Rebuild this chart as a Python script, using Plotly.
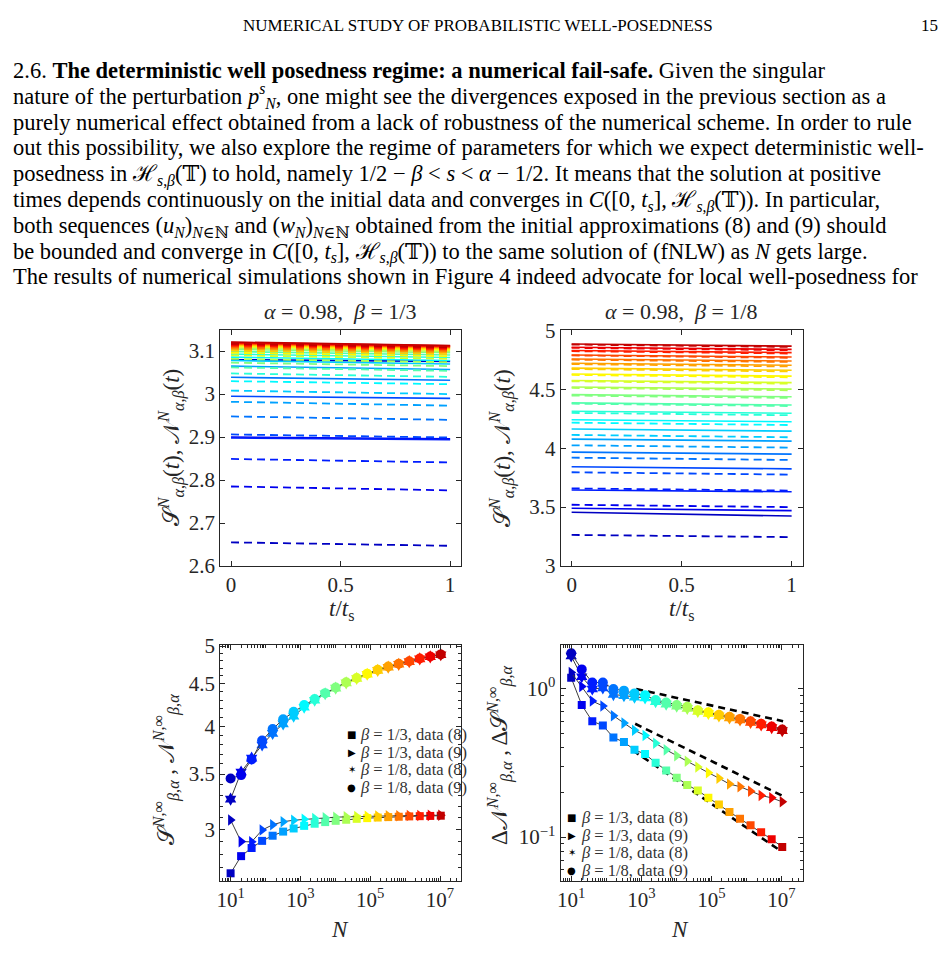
import math
import plotly.graph_objects as go

# ---------------- data ----------------
N_VALUES = [10, 20, 40, 80, 160, 320, 640, 1280, 2560, 5120, 10240, 20480, 40960,
            81920, 163840, 327680, 655360, 1310720, 2621440, 5242880, 10485760]
T_VALUES = [0.0, 1.0]

# beta = 1/3  (top-left: dashed = data (8), solid = data (9)); value at t=0 and t=t_s
b13_d8_start = [2.655, 2.785, 2.849, 2.906, 2.948, 2.982, 3.008, 3.030, 3.048, 3.062, 3.073,
                3.082, 3.090, 3.096, 3.101, 3.105, 3.108, 3.111, 3.113, 3.115, 3.117]
b13_d8_end = [2.647, 2.776, 2.841, 2.899, 2.940, 2.973, 3.000, 3.023, 3.040, 3.054, 3.065,
              3.074, 3.082, 3.088, 3.093, 3.097, 3.100, 3.103, 3.105, 3.107, 3.109]
b13_d9_start = [3.080, 2.900, 2.898, 2.995, 3.039, 3.065, 3.078, 3.086, 3.093, 3.099, 3.104,
                3.107, 3.110, 3.112, 3.114, 3.116, 3.117, 3.118, 3.119, 3.120, 3.121]
b13_d9_end = [3.076, 2.896, 2.894, 2.990, 3.032, 3.057, 3.070, 3.078, 3.085, 3.091, 3.096,
              3.099, 3.102, 3.104, 3.106, 3.108, 3.109, 3.110, 3.111, 3.112, 3.113]

# beta = 1/8  (top-right)
b18_d8_start = [3.264, 3.520, 3.659, 3.796, 3.920, 4.025, 4.113, 4.217, 4.300, 4.378, 4.447,
                4.512, 4.568, 4.622, 4.672, 4.714, 4.752, 4.788, 4.824, 4.852, 4.880]
b18_d8_end = [3.245, 3.500, 3.640, 3.776, 3.900, 4.005, 4.093, 4.197, 4.280, 4.358, 4.427,
              4.492, 4.548, 4.602, 4.652, 4.694, 4.732, 4.768, 4.804, 4.832, 4.860]
b18_d9_start = [3.457, 3.490, 3.645, 3.843, 3.967, 4.077, 4.163, 4.242, 4.314, 4.385, 4.455,
                4.520, 4.575, 4.630, 4.680, 4.722, 4.758, 4.792, 4.830, 4.857, 4.885]
b18_d9_end = [3.424, 3.470, 3.630, 3.825, 3.950, 4.060, 4.145, 4.225, 4.297, 4.367, 4.437,
              4.502, 4.557, 4.612, 4.662, 4.704, 4.740, 4.774, 4.812, 4.839, 4.867]

# bottom-right: differences
d_b13_d8 = [1.19, 0.780, 0.605, 0.567, 0.470, 0.438, 0.388, 0.364, 0.317, 0.282, 0.252,
            0.225, 0.206, 0.184, 0.166, 0.148, 0.133, 0.120, 0.108, 0.0966, 0.0859]
d_b13_d9 = [1.29, 1.04, 0.828, 0.768, 0.660, 0.588, 0.526, 0.485, 0.430, 0.388, 0.354,
            0.325, 0.297, 0.272, 0.250, 0.228, 0.219, 0.204, 0.191, 0.184, 0.173]
d_b18_d8 = [1.67, 1.21, 1.00, 1.015, 0.917, 0.900, 0.880, 0.870, 0.820, 0.790, 0.765,
            0.740, 0.705, 0.683, 0.658, 0.638, 0.617, 0.595, 0.572, 0.548, 0.523]
d_b18_d9 = [1.74, 1.355, 1.105, 1.105, 1.00, 0.974, 0.933, 0.908, 0.841, 0.809, 0.780,
            0.757, 0.719, 0.695, 0.670, 0.650, 0.628, 0.606, 0.582, 0.558, 0.533]

# reference slopes (dashed black) in bottom-right
ref1_x = [713, 1.11e7]
ref1_y = [1.0, 0.606]
ref2_x = [668, 1.11e7]
ref2_y = [0.582, 0.189]
ref3_x = [575, 8.0e6]
ref3_y = [0.385, 0.083]

# tick labels
tl_yticks = [2.6, 2.7, 2.8, 2.9, 3.0, 3.1]
tl_ytext = ["2.6", "2.7", "2.8", "2.9", "3", "3.1"]
tr_yticks = [3, 3.5, 4, 4.5, 5]
tr_ytext = ["3", "3.5", "4", "4.5", "5"]
t_xticks = [0, 0.5, 1]
t_xtext = ["0", "0.5", "1"]
bl_yticks = [3, 3.5, 4, 4.5, 5]
bl_ytext = ["3", "3.5", "4", "4.5", "5"]
br_yticks = [0.1, 1.0]
br_ytext = ["10<sup>−1</sup>", "10<sup>0</sup>"]
b_xticks = [10, 1e3, 1e5, 1e7]
b_xtext = ["10<sup>1</sup>", "10<sup>3</sup>", "10<sup>5</sup>", "10<sup>7</sup>"]

LEGEND_LABELS = ["<i>β</i> = 1/3, data (8)", "<i>β</i> = 1/3, data (9)",
                 "<i>β</i> = 1/8, data (8)", "<i>β</i> = 1/8, data (9)"]

PARAGRAPH = [
    "2.6. <b>The deterministic well posedness regime: a numerical fail-safe.</b> Given the singular",
    "nature of the perturbation <i>p</i><sup><i>s</i></sup><sub><i>N</i></sub>, one might see the divergences exposed in the previous section as a",
    "purely numerical effect obtained from a lack of robustness of the numerical scheme. In order to rule",
    "out this possibility, we also explore the regime of parameters for which we expect deterministic well-",
    "posedness in ℋ<sub><i>s</i>,<i>β</i></sub>(𝕋) to hold, namely 1/2 − <i>β</i> &lt; <i>s</i> &lt; <i>α</i> − 1/2. It means that the solution at positive",
    "times depends continuously on the initial data and converges in <i>C</i>([0, <i>t</i><sub><i>s</i></sub>], ℋ<sub><i>s</i>,<i>β</i></sub>(𝕋)). In particular,",
    "both sequences (<i>u</i><sub><i>N</i></sub>)<sub><i>N</i>∈ℕ</sub> and (<i>w</i><sub><i>N</i></sub>)<sub><i>N</i>∈ℕ</sub> obtained from the initial approximations (8) and (9) should",
    "be bounded and converge in <i>C</i>([0, <i>t</i><sub><i>s</i></sub>], ℋ<sub><i>s</i>,<i>β</i></sub>(𝕋)) to the same solution of (fNLW) as <i>N</i> gets large.",
    "The results of numerical simulations shown in Figure 4 indeed advocate for local well-posedness for",
]

# ---------------- styling helpers ----------------
W, H = 948, 974
SERIF = "Liberation Serif, DejaVu Serif, serif"
INK = "#262626"


def px(x):
    return x / W


def py(y):
    return 1 - y / H


def jet(t):
    r = min(max(min(4 * t - 1.5, -4 * t + 4.5), 0), 1)
    g = min(max(min(4 * t - 0.5, -4 * t + 3.5), 0), 1)
    b = min(max(min(4 * t + 0.5, -4 * t + 2.5), 0), 1)
    return "rgb(%d,%d,%d)" % (round(r * 255), round(g * 255), round(b * 255))


n = len(N_VALUES)
COLORS = [jet((i + 1.5) / (n + 2)) for i in range(n)]

fig = go.Figure()

# ---------------- top panels ----------------
for (xa, ya, d8s, d8e, d9s, d9e) in [
        ("x", "y", b13_d8_start, b13_d8_end, b13_d9_start, b13_d9_end),
        ("x2", "y2", b18_d8_start, b18_d8_end, b18_d9_start, b18_d9_end)]:
    for i in range(n):
        fig.add_trace(go.Scatter(x=T_VALUES, y=[d9s[i], d9e[i]], mode="lines",
                                 line=dict(color=COLORS[i], width=1.6),
                                 xaxis=xa, yaxis=ya, showlegend=False, hoverinfo="skip"))
        fig.add_trace(go.Scatter(x=T_VALUES, y=[d8s[i], d8e[i]], mode="lines",
                                 line=dict(color=COLORS[i], width=1.8, dash="8px,5px"),
                                 xaxis=xa, yaxis=ya, showlegend=False, hoverinfo="skip"))

# ---------------- bottom panels ----------------
series_bl = [(b13_d8_start, "square", 8), (b13_d9_start, "triangle-right", 10),
             (b18_d8_start, "hexagram", 10), (b18_d9_start, "circle", 10)]
series_br = [(d_b13_d8, "square", 8), (d_b13_d9, "triangle-right", 10),
             (d_b18_d8, "hexagram", 10), (d_b18_d9, "circle", 10)]

for ref_x, ref_y in [(ref1_x, ref1_y), (ref2_x, ref2_y), (ref3_x, ref3_y)]:
    fig.add_trace(go.Scatter(x=ref_x, y=ref_y, mode="lines",
                             line=dict(color="black", width=2.6, dash="7px,5px"),
                             xaxis="x4", yaxis="y4", showlegend=False, hoverinfo="skip"))

for (xa, ya, series) in [("x3", "y3", series_bl), ("x4", "y4", series_br)]:
    for vals, sym, sz in series:
        fig.add_trace(go.Scatter(x=N_VALUES, y=vals, mode="lines+markers",
                                 line=dict(color="#3c3c3c", width=1),
                                 marker=dict(symbol=sym, size=sz, color=COLORS,
                                             line=dict(width=0)),
                                 xaxis=xa, yaxis=ya, showlegend=False, hoverinfo="skip"))

# ---------------- axes ----------------
base = dict(showline=True, linecolor=INK, linewidth=1, mirror="ticks", ticks="inside",
            ticklen=5, tickcolor=INK, tickwidth=1, showgrid=False, zeroline=False,
            tickfont=dict(family=SERIF, size=21, color=INK))

dom_left = [px(217), px(459)]
dom_right = [px(559), px(802)]
dom_top = [py(568), py(326.5)]
dom_bot = [py(891), py(649)]

log_minor_x = []
for k in range(0, 8):
    for m in range(2, 11):
        log_minor_x.append(m * 10 ** k)
bl_minor = [round(2.6 + 0.1 * j, 1) for j in range(25)]
br_minor = [m / 100 for m in range(5, 10)] + [m / 10 for m in range(2, 10)]

fig.update_layout(
    width=W, height=H, margin=dict(l=0, r=0, t=0, b=0),
    paper_bgcolor="white", plot_bgcolor="white", showlegend=False,
    xaxis=dict(base, domain=dom_left, anchor="y", range=[-0.05, 1.05],
               tickmode="array", tickvals=t_xticks, ticktext=t_xtext),
    yaxis=dict(base, domain=dom_top, anchor="x", range=[2.6, 3.148],
               tickmode="array", tickvals=tl_yticks, ticktext=tl_ytext),
    xaxis2=dict(base, domain=dom_right, anchor="y2", range=[-0.05, 1.05],
                tickmode="array", tickvals=t_xticks, ticktext=t_xtext),
    yaxis2=dict(base, domain=dom_top, anchor="x2", range=[3, 5],
                tickmode="array", tickvals=tr_yticks, ticktext=tr_ytext),
    xaxis3=dict(base, domain=dom_left, anchor="y3", type="log",
                range=[math.log10(5), math.log10(4e7)],
                tickmode="array", tickvals=b_xticks, ticktext=b_xtext,
                minor=dict(tickmode="array", tickvals=log_minor_x, ticklen=3,
                           ticks="inside", tickcolor=INK)),
    yaxis3=dict(base, domain=dom_bot, anchor="x3", type="log",
                range=[0.4147, 0.7002],
                tickmode="array", tickvals=bl_yticks, ticktext=bl_ytext,
                minor=dict(tickmode="array", tickvals=bl_minor, ticklen=3,
                           ticks="inside", tickcolor=INK)),
    xaxis4=dict(base, domain=dom_right, anchor="y4", type="log",
                range=[math.log10(5), math.log10(4e7)],
                tickmode="array", tickvals=b_xticks, ticktext=b_xtext,
                minor=dict(tickmode="array", tickvals=log_minor_x, ticklen=3,
                           ticks="inside", tickcolor=INK)),
    yaxis4=dict(base, domain=dom_bot, anchor="x4", type="log",
                range=[-1.2966, 0.2966],
                tickmode="array", tickvals=br_yticks, ticktext=br_ytext,
                minor=dict(tickmode="array", tickvals=br_minor, ticklen=3,
                           ticks="inside", tickcolor=INK)),
)

# ---------------- text ----------------
ann = []


def add_text(text, x, y, size, xanchor="center", yanchor="middle", angle=0, color="black"):
    ann.append(dict(text=text, x=px(x), y=py(y), xref="paper", yref="paper",
                    xanchor=xanchor, yanchor=yanchor, showarrow=False, textangle=angle,
                    font=dict(family=SERIF, size=size, color=color)))


add_text("NUMERICAL STUDY OF PROBABILISTIC WELL-POSEDNESS", 476, 14, 17)
add_text("15", 940, 14, 17, xanchor="right")

# paragraph as one text block: line pitch = 1.3 x base size, glyphs enlarged by span
para = "<br>".join('<span style="font-size:22.5px">%s</span>' % line for line in PARAGRAPH)
ann.append(dict(text=para, x=px(7), y=py(45), xref="paper", yref="paper",
                xanchor="left", yanchor="top", align="left", showarrow=False,
                font=dict(family=SERIF, size=19.85, color="black")))

add_text("<i>α</i> = 0.98,\u00a0\u00a0<i>β</i> = 1/3", 337, 307, 22, color=INK)
add_text("<i>α</i> = 0.98,\u00a0\u00a0<i>β</i> = 1/8", 680, 307, 22, color=INK)
add_text("<i>t</i>/<i>t</i><sub>s</sub>", 339, 613, 23, color=INK)
add_text("<i>t</i>/<i>t</i><sub>s</sub>", 680, 613, 23, color=INK)
add_text("<i>N</i>", 337, 941, 23, color=INK)
add_text("<i>N</i>", 679, 941, 23, color=INK)

ylab_top = ("𝒮<sup><i>N</i></sup><sub><i>α</i>,<i>β</i></sub>(<i>t</i>), "
            "𝒩<sup><i>N</i></sup><sub><i>α</i>,<i>β</i></sub>(<i>t</i>)")
add_text(ylab_top, 168, 447, 23, angle=-90, color=INK)
add_text(ylab_top, 500, 447, 23, angle=-90, color=INK)
add_text("𝒮<sup><i>N</i>,∞</sup><sub><i>β</i>,<i>α</i></sub> , "
         "𝒩<sup><i>N</i>,∞</sup><sub><i>β</i>,<i>α</i></sub>", 163, 777, 23, angle=-90, color=INK)
add_text("Δ𝒩<sup><i>N</i>,∞</sup><sub><i>β</i>,<i>α</i></sub> , "
         "Δ𝒮<sup><i>N</i>,∞</sup><sub><i>β</i>,<i>α</i></sub>", 498, 762, 23, angle=-90, color=INK)

# legends (black key glyphs + labels)
KEY_GLYPHS = ["■", "▶", "✶", "●"]
for (kx, tx, y0) in [(349, 356, 741), (570, 577, 826)]:
    for j in range(4):
        y = y0 + 18 * j
        ann.append(dict(text=KEY_GLYPHS[j], x=px(kx), y=py(y), xref="paper", yref="paper",
                        xanchor="center", yanchor="middle", showarrow=False,
                        font=dict(family="DejaVu Sans", size=10, color="black")))
        add_text(LEGEND_LABELS[j], tx, y, 16.5, xanchor="left", color="#333333")

fig.update_layout(annotations=ann)
fig.write_html("out.html")
